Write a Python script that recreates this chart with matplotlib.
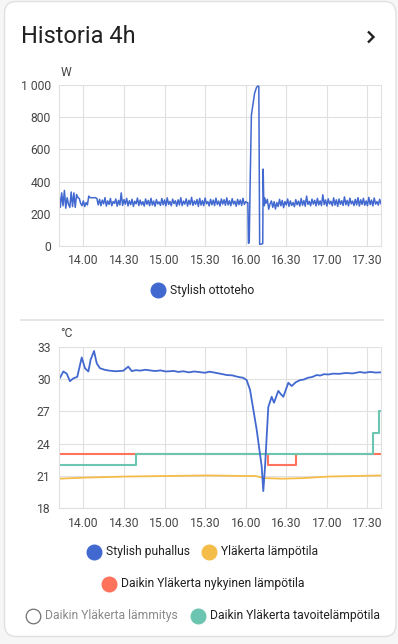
import matplotlib as mpl
import matplotlib.pyplot as plt
import matplotlib.dates as mdates
from matplotlib.patches import FancyBboxPatch
from matplotlib.ticker import FuncFormatter
import numpy as np
import pandas as pd

mpl.rcParams["font.family"] = ["Roboto", "DejaVu Sans"]

# colours of the Home Assistant history card
BLUE = "#4269d0"
YELLOW = "#f4bd4a"
RED = "#ff725c"
TEAL = "#6cc5b0"
GRID = "#e0e0e0"
TICK = "#464646"

title = "Historia 4h"
base = pd.Timestamp("2024-01-01 13:42")
x_start = pd.Timestamp("2024-01-01 13:42")
x_end = pd.Timestamp("2024-01-01 17:40")

# --- power chart: Stylish ottoteho (W), minutes after 13.42 ---
power_name = "Stylish ottoteho"
power_a = [335, 240, 330, 250, 345, 235, 300, 260, 240, 335, 245, 330, 240, 320, 300,
           295, 265, 250, 280, 245, 270, 255,
           310, 300, 300, 300, 300, 300, 295,
           255, 290, 250, 285, 262, 300, 248, 280, 258, 295, 250, 276,
           265, 292, 247, 283, 255, 330, 252, 288, 260, 296, 249, 281,
           257, 290, 246, 278, 262, 298, 251, 285, 256, 275, 248, 292,
           259, 283, 250, 296, 254, 279, 247, 288, 261, 274, 252, 295,
           256, 286, 249, 299, 258, 277, 250, 291, 263, 281, 247, 287,
           255, 300, 251, 279, 260, 293, 248, 284, 257, 302, 252, 280,
           259, 289, 246, 296, 254, 282, 250, 298, 262, 276, 249, 290,
           256, 285, 251, 297, 258, 279, 248, 292, 260, 287, 253, 299,
           255, 281, 250, 294, 261, 278, 247, 290, 257, 286, 252, 296, 258, 275, 270]
spike_min = [139.6, 140.0, 140.6, 141.3, 142.2, 144.6, 146.0, 147.0, 147.7, 148.3,
             149.5, 150.6, 150.9, 151.3, 151.8]
spike_w = [270, 17, 20, 400, 813, 950, 985, 994, 990, 10, 12, 15, 478, 300, 250]
power_b = [300, 265, 290, 228, 262, 280, 240, 275, 230, 270, 245, 290,
           250, 283, 238, 276, 255, 292, 246, 280, 252, 270, 244, 288,
           256, 279, 248, 295, 253, 282, 247, 310, 258, 277, 250, 291,
           260, 284, 249, 296, 255, 280, 251, 318, 257, 286, 248, 293,
           261, 278, 250, 299, 254, 287, 246, 292, 259, 281, 252, 305,
           256, 283, 249, 297, 262, 279, 251, 290, 255, 300, 248, 287,
           258, 296, 253, 280, 250, 302, 257, 285, 249, 298, 260, 276, 254, 290, 262]
power_ticks = [0, 200, 400, 600, 800, 1000]

# --- temperature chart (°C), minutes after 13.42 ---
fan_name = "Stylish puhallus"
fan_min = [0, 0.7, 3.2, 5.7, 8.1, 10.6, 13.5, 16.8, 19.2, 21.7, 23.4, 25.9, 27.9,
           30.3, 34, 37.7, 42, 47.5, 51.2, 53.7, 57, 60, 64, 67.3, 71, 75, 79, 85,
           88, 91.9, 96, 100, 104, 108, 111, 114, 118, 121, 123.9, 128, 131,
           133.8, 136, 138.7, 141.2, 146.1, 149.8, 151.0, 152.3,
           154.7, 157.2, 158.9, 162.1, 163.9, 165.8, 169.5, 172.0, 175, 178.1, 181,
           184, 187, 190.5, 193, 196, 199, 202.7, 207, 212, 217, 222.5, 226, 230,
           234, 238]
fan_c = [30.16, 30.1, 30.7, 30.5, 29.8, 30.06, 30.2, 32.0, 31.0, 30.7, 31.8, 32.6, 31.45,
         31.0, 30.85, 30.77, 30.72, 30.77, 31.15, 30.74, 30.82, 30.78, 30.86, 30.8, 30.74,
         30.8, 30.7, 30.75, 30.66, 30.72, 30.62, 30.7, 30.64, 30.58, 30.68, 30.62,
         30.52, 30.45, 30.37, 30.34, 30.24, 30.16, 30.12, 29.9, 29.0, 25.3, 21.9, 19.6, 21.9,
         27.4, 28.35, 27.8, 28.9, 28.6, 28.35, 29.65, 29.35, 29.7, 29.9, 29.95,
         30.12, 30.18, 30.37, 30.32, 30.45, 30.42, 30.5, 30.48, 30.56, 30.52, 30.65, 30.58,
         30.66, 30.6, 30.62]
room_name = "Yläkerta lämpötila"
room_min = [0, 20, 50, 80, 110, 135, 145, 152, 165, 180, 200, 220, 238]
room_c = [20.75, 20.85, 20.95, 21.0, 21.05, 21.0, 21.0, 20.8, 20.75, 20.8, 20.95, 21.0, 21.05]
current_name = "Daikin Yläkerta nykyinen lämpötila"
current_min = [0, 154.7, 174.9, 238]
current_c = [23, 22, 23, 23]
heating_name = "Daikin Yläkerta lämmitys"
target_name = "Daikin Yläkerta tavoitelämpötila"
target_min = [0, 56.7, 232.3, 236.7, 238]
target_c = [22, 23, 25, 27, 27]
temp_ticks = [18, 21, 24, 27, 30, 33]


def times(minutes):
    return base + pd.to_timedelta(np.asarray(minutes, dtype=float), unit="min")


def style_axis(ax, ticks):
    ax.set_xlim(x_start, x_end)
    ax.set_ylim(ticks[0], ticks[-1])
    ax.set_yticks(ticks)
    ax.xaxis.set_major_locator(mdates.MinuteLocator(byminute=[0, 30]))
    ax.xaxis.set_major_formatter(mdates.DateFormatter("%H.%M"))
    ax.grid(True, color=GRID, linewidth=0.8)
    ax.set_axisbelow(True)
    for spine in ax.spines.values():
        spine.set_color(GRID)
        spine.set_linewidth(0.8)
    ax.spines["top"].set_visible(False)
    ax.tick_params(length=0, labelsize=8.7, colors=TICK, pad=6)
    ax.set_facecolor("none")


W, H = 398, 644
fig = plt.figure(figsize=(W / 100, H / 100), dpi=100, facecolor="#f6f6f6")

# page layer in pixel coordinates
bg = fig.add_axes([0, 0, 1, 1], zorder=0)
bg.set_xlim(0, W)
bg.set_ylim(H, 0)
bg.axis("off")
bg.add_patch(FancyBboxPatch((4.5, 1.5), 391.5, 635, boxstyle="round,pad=0,rounding_size=12",
                            facecolor="white", edgecolor=GRID, linewidth=1))
bg.text(21, 36, title, fontsize=17, color="#212121", va="center", ha="left")
bg.plot([368, 373.5, 368], [31.5, 37, 42.5], color="#212121", linewidth=1.7,
        solid_capstyle="butt", solid_joinstyle="miter")
bg.plot([21, 383], [320, 320], color=GRID, linewidth=1.2)
bg.text(61, 72, "W", fontsize=8.7, color=TICK, va="center")
bg.text(60, 333, "°C", fontsize=8.7, color=TICK, va="center")


def legend_item(x, y, label, color, hidden=False):
    if hidden:
        bg.plot(x, y, "o", markersize=10.5, markerfacecolor="white",
                markeredgecolor="#707070", markeredgewidth=0.9)
        text_color = "#8a8a8a"
    else:
        bg.plot(x, y, "o", markersize=10.5, color=color)
        text_color = "#212121"
    bg.text(x + 12, y, label, fontsize=8.7, color=text_color, va="center", ha="left")


legend_item(158, 290, power_name, BLUE)
legend_item(94, 552, fan_name, BLUE)
legend_item(209, 552, room_name, YELLOW)
legend_item(109, 583.5, current_name, RED)
legend_item(33, 615.5, heating_name, None, hidden=True)
legend_item(198, 615.5, target_name, TEAL)

# power chart
ax1 = fig.add_axes([59 / W, 1 - 246 / H, 322 / W, 161 / H], zorder=1)
power_min = list(range(len(power_a))) + spike_min + [152 + i for i in range(len(power_b))]
power_w = power_a + spike_w + power_b
ax1.plot(times(power_min), power_w, color=BLUE, linewidth=1.1)
style_axis(ax1, power_ticks)
ax1.yaxis.set_major_formatter(FuncFormatter(lambda v, p: f"{v:,.0f}".replace(",", " ")))

# temperature chart
ax2 = fig.add_axes([59 / W, 1 - 508.3 / H, 322 / W, 161.6 / H], zorder=1)
ax2.plot(times(room_min), room_c, color=YELLOW, linewidth=1.3)
ax2.step(times(current_min), current_c, where="post", color=RED, linewidth=1.5)
ax2.step(times(target_min), target_c, where="post", color=TEAL, linewidth=1.5)
ax2.plot(times(fan_min), fan_c, color=BLUE, linewidth=1.3)
style_axis(ax2, temp_ticks)

fig.savefig("out.png", dpi=100, facecolor=fig.get_facecolor())
